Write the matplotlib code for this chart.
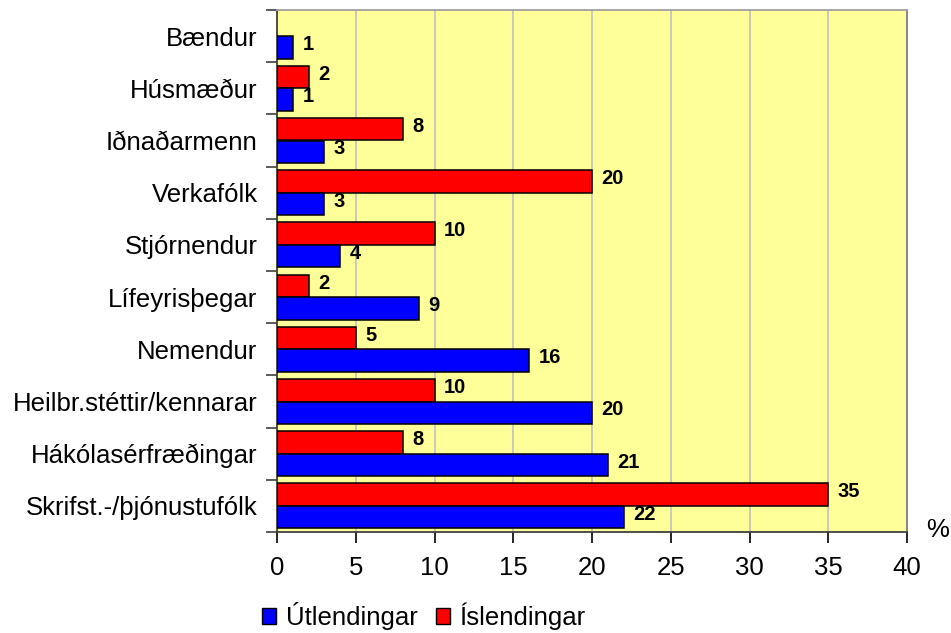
import numpy as np
import matplotlib
matplotlib.use("Agg")
import matplotlib.pyplot as plt
from matplotlib.patches import Patch

plt.rcParams['font.family'] = ['Liberation Sans', 'DejaVu Sans']

# data (percent)
categories = ['Bændur', 'Húsmæður', 'Iðnaðarmenn', 'Verkafólk', 'Stjórnendur',
              'Lífeyrisþegar', 'Nemendur', 'Heilbr.stéttir/kennarar',
              'Hákólasérfræðingar', 'Skrifst.-/þjónustufólk']
utlendingar = [1, 1, 3, 3, 4, 9, 16, 20, 21, 22]
islendingar = [None, 2, 8, 20, 10, 2, 5, 10, 8, 35]
series_names = ['Útlendingar', 'Íslendingar']
xticks = [0, 5, 10, 15, 20, 25, 30, 35, 40]

W, H = 951, 633
fig = plt.figure(figsize=(W / 100, H / 100), dpi=100)
ax = fig.add_axes([277 / W, 1 - 532 / H, (907 - 277) / W, (532 - 10) / H])
ax.set_facecolor('#FFFF99')

y = np.arange(len(categories))
bh = 0.43
off = 0.215

# red (Íslendingar) on top, blue (Útlendingar) below in each category
red_idx = [i for i, v in enumerate(islendingar) if v is not None]
red_vals = [islendingar[i] for i in red_idx]
ax.barh(y[red_idx] - off, red_vals, height=bh, color='#FF0000',
        edgecolor='black', linewidth=1.1, zorder=3)
ax.barh(y + off, utlendingar, height=bh, color='#0000FF',
        edgecolor='black', linewidth=1.1, zorder=3)

for i, v in zip(red_idx, red_vals):
    ax.annotate(str(v), (v, y[i] - off), xytext=(7, 2), textcoords='offset points',
                ha='left', va='center', fontsize=14.5, fontweight='bold', zorder=4)
for i, v in enumerate(utlendingar):
    ax.annotate(str(v), (v, y[i] + off), xytext=(7, 2), textcoords='offset points',
                ha='left', va='center', fontsize=14.5, fontweight='bold', zorder=4)

ax.set_xlim(0, 40)
ax.set_ylim(len(categories) - 0.5, -0.5)
ax.set_xticks(xticks)
ax.set_xticklabels([str(t) for t in xticks], fontsize=18.5)
ax.tick_params(axis='x', direction='out', length=8, width=1.2, color='black', pad=9)

ax.set_yticks(y)
ax.set_yticklabels(categories, fontsize=18.5)
ax.tick_params(axis='y', which='major', length=0, pad=14)
ax.set_yticks(np.arange(len(categories) + 1) - 0.5, minor=True)
ax.tick_params(axis='y', which='minor', direction='out', length=8, width=1.2, color='#404040')

ax.grid(axis='x', color='#C0C0C0', linewidth=1.2, zorder=0)
ax.set_axisbelow(True)
ax.spines['left'].set_color('#404040')
ax.spines['bottom'].set_color('#404040')
ax.spines['left'].set_linewidth(1.3)
ax.spines['bottom'].set_linewidth(1.3)
ax.spines['top'].set_color('#A0A0A0')
ax.spines['right'].set_color('#808080')
ax.spines['top'].set_linewidth(1.3)
ax.spines['right'].set_linewidth(1.3)

fig.text(938 / W, 1 - 530 / H, '%', fontsize=18.5, ha='center', va='center')

handles = [Patch(facecolor='#0000FF', edgecolor='black', linewidth=1.0),
           Patch(facecolor='#FF0000', edgecolor='black', linewidth=1.0)]
fig.legend(handles, series_names, loc='lower left', bbox_to_anchor=(262 / W, 3 / H),
           ncol=2, frameon=False, fontsize=18.5, handlelength=0.56, handleheight=0.6,
           handletextpad=0.36, columnspacing=0.72, borderpad=0, borderaxespad=0)

fig.savefig('out.png', dpi=100)
